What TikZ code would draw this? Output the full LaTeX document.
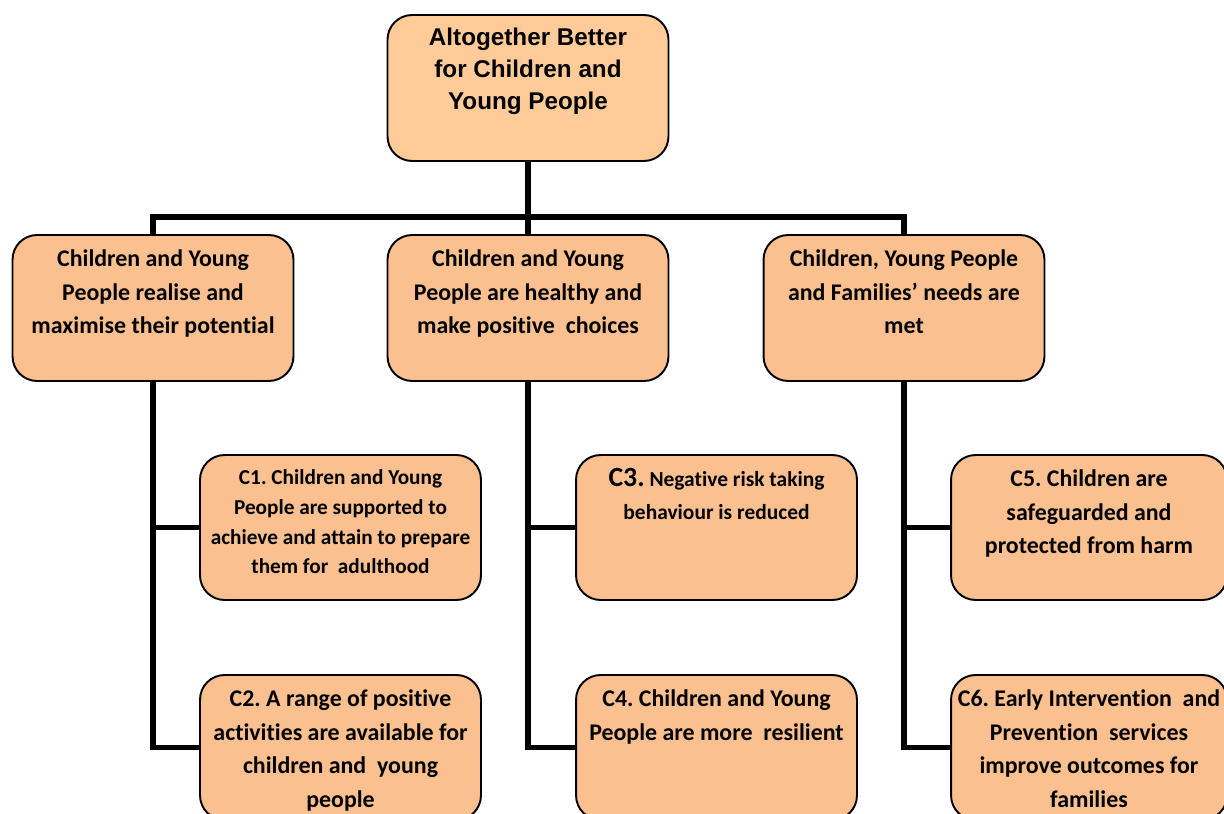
\documentclass[tikz,border=0pt]{standalone}
\usepackage{fontspec}
\setmainfont{Carlito}[Ligatures=NoCommon]
\newfontfamily\arialfont{Liberation Sans}
\usetikzlibrary{positioning}
\frenchspacing
\definecolor{boxorange}{RGB}{250,192,143}
\definecolor{toporange}{RGB}{255,204,153}
\newcommand{\bigfont}{\fontsize{13.6}{19.3}\selectfont\bfseries}
\newcommand{\smallfont}{\fontsize{12.1}{17}\selectfont\bfseries}

\begin{document}
\begin{tikzpicture}[x=0.02cm, y=-0.02cm,
    box/.style={draw, line width=1.1pt, rounded corners=14pt, fill=boxorange,
      minimum width=5.62cm, minimum height=2.9cm},
    lbl/.style={align=center, inner sep=0pt, anchor=north},
    link/.style={line width=3pt, line join=miter}]
    \clip (0,0) rectangle (1224,814);
    % top of the tree
    \node[box, fill=toporange, minimum height=2.92cm] (top) at (528,88) {};
    \node[lbl, below=0.28cm of top.north, font={\arialfont\fontsize{13.8}{18.1}\selectfont\bfseries}]
      (toptext) {Altogether Better\\for Children and\\Young People};

    % outcome boxes
    \node[box, minimum height=2.92cm] (left) at (153,308) {};
    \node[box, minimum height=2.92cm] (mid) at (528,308) {};
    \node[box, minimum height=2.92cm] (right) at (904,308) {};
    \node[lbl, below=0.3cm of left.north, font=\bigfont] (lefttext)
      {Children and Young\\People realise and\\maximise their potential};
    \node[lbl, below=0.3cm of mid.north, font=\bigfont] (midtext)
      {Children and Young\\People are healthy and\\make positive\ \ choices};
    \node[lbl, below=0.3cm of right.north, font=\bigfont] (righttext)
      {Children, Young People\\and Families' needs are\\met};

    % priorities
    \node[box] (c1) at (340.5,527.5) {};
    \node[box] (c2) at (340.5,747.5) {};
    \node[box] (c3) at (716.5,527.5) {};
    \node[box] (c4) at (716.5,747.5) {};
    \node[box, minimum width=5.52cm] (c5) at (1089,527.5) {};
    \node[box, minimum width=5.52cm] (c6) at (1089,747.5) {};
    \node[lbl, below=0.3cm of c1.north, font=\smallfont] (c1text)
      {C1. Children and Young\\People are supported to\\achieve and attain to prepare\\them for\ \ adulthood};
    \node[lbl, below=0.3cm of c2.north, font=\bigfont] (c2text)
      {C2. A range of positive\\activities are available for\\children and\ \ young\\people};
    \node[lbl, below=0.28cm of c3.north, font={\fontsize{12.2}{18.7}\selectfont\bfseries}] (c3text)
      {{\fontsize{15.8}{18.7}\selectfont C3.} Negative risk taking\\behaviour is reduced};
    \node[lbl, below=0.3cm of c4.north, font=\bigfont] (c4text)
      {C4. Children and Young\\People are more\ \ resilient};
    \node[lbl, below=0.3cm of c5.north, font=\bigfont] (c5text)
      {C5. Children are\\safeguarded and\\protected from harm};
    \node[lbl, below=0.3cm of c6.north, font=\bigfont] (c6text)
      {C6. Early Intervention\ \ and\\Prevention\ \ services\\improve outcomes for\\families};

    % tree lines
    \draw[link] (top) -- (mid);
    \draw[link] (left.north) -- ++(0,-17) -| (right.north);
    \draw[link] (left.south) |- (c1.west);
    \draw[link] (left.south) |- (c2.west);
    \draw[link] (mid.south) |- (c3.west);
    \draw[link] (mid.south) |- (c4.west);
    \draw[link] (right.south) |- (c5.west);
    \draw[link] (right.south) |- (c6.west);
\end{tikzpicture}
\end{document}
